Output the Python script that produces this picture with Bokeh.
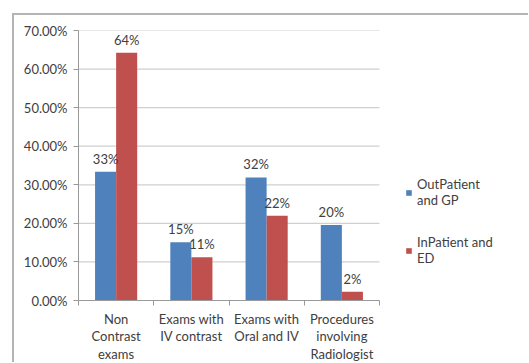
from bokeh.plotting import figure
from bokeh.models import (ColumnDataSource, FixedTicker, NumeralTickFormatter, Range1d,
                          Legend, LegendItem)
from bokeh.transform import dodge
from bokeh.core.properties import value
from bokeh.embed import file_html
from bokeh.resources import INLINE

categories = ["Non\nContrast\nexams", "Exams with\nIV contrast", "Exams with\nOral and IV",
              "Procedures\ninvolving\nRadiologist"]
outpatient = [0.334, 0.151, 0.319, 0.196]
inpatient = [0.642, 0.112, 0.220, 0.023]
out_labels = ["33%", "15%", "32%", "20%"]
in_labels = ["64%", "11%", "22%", "2%"]
series_names = ["OutPatient\nand GP", "InPatient and\nED"]
y_ticks = [0.0, 0.1, 0.2, 0.3, 0.4, 0.5, 0.6, 0.7]
colors = ["#4F81BD", "#C0504D"]

FONT = "Lato"
FS = "13px"
TXT = "#404040"
GRID = "#d0d0d0"

n = len(categories)
pos = [i + 0.5 for i in range(n)]
src = ColumnDataSource(dict(x=pos, out=outpatient, inp=inpatient,
                            out_lab=out_labels, in_lab=in_labels))

# frame spans 447 px; the 4 categories occupy 301 px of it, the rest holds the legend
x_end = n * 447 / 301
p = figure(width=516, height=349, output_backend="svg", toolbar_location=None,
           x_range=Range1d(0, x_end), y_range=Range1d(0, y_ticks[-1]),
           min_border_left=64, min_border_right=5, min_border_top=15, min_border_bottom=63)
p.margin = (13, 0, 0, 12)
p.styles = {"border-top": "2px solid #b4b4b4", "border-left": "2px solid #b4b4b4"}
p.outline_line_color = None
p.background_fill_color = "white"

# horizontal grid lines limited to the category area
p.segment(x0=0, x1=n, y0=y_ticks[1:], y1=y_ticks[1:], line_color=GRID, line_width=1.2)

r1 = p.vbar(x=dodge("x", -0.14, range=p.x_range), top="out", width=0.28, source=src,
            fill_color=colors[0], line_color=None)
r2 = p.vbar(x=dodge("x", 0.14, range=p.x_range), top="inp", width=0.28, source=src,
            fill_color=colors[1], line_color=None)

for dx, col, lab in [(-0.14, "out", "out_lab"), (0.14, "inp", "in_lab")]:
    p.text(x=dodge("x", dx, range=p.x_range), y=col, text=lab, source=src,
           text_align="center", text_baseline="bottom", y_offset=-5,
           text_font=value(FONT), text_font_size=FS, text_color=TXT)

# axes
p.xaxis.bounds = (0, n)
p.xaxis.ticker = FixedTicker(ticks=pos, minor_ticks=list(range(n + 1)))
p.xaxis.major_label_overrides = {v: c for v, c in zip(pos, categories)}
p.xaxis.major_tick_line_color = None
p.xaxis.minor_tick_in = 0
p.xaxis.minor_tick_out = 5
p.xaxis.minor_tick_line_color = "#999999"
p.xaxis.axis_line_color = "#999999"
p.xaxis.major_label_text_font = FONT
p.xaxis.major_label_text_font_size = FS
p.xaxis.major_label_text_color = TXT
p.xaxis.major_label_text_line_height = 1.1
p.xaxis.major_label_standoff = 4

p.yaxis.ticker = FixedTicker(ticks=y_ticks)
p.yaxis.formatter = NumeralTickFormatter(format="0.00%")
p.yaxis.major_tick_in = 0
p.yaxis.major_tick_out = 5
p.yaxis.major_tick_line_color = "#999999"
p.yaxis.minor_tick_line_color = None
p.yaxis.axis_line_color = "#999999"
p.yaxis.major_label_text_font = FONT
p.yaxis.major_label_text_font_size = FS
p.yaxis.major_label_text_color = TXT
p.yaxis.major_label_standoff = 6

p.xgrid.grid_line_color = None
p.ygrid.grid_line_color = None

legend = Legend(items=[LegendItem(label=series_names[0], renderers=[r1]),
                       LegendItem(label=series_names[1], renderers=[r2])],
                location=(327, 34), orientation="vertical", margin=0,
                glyph_width=7, glyph_height=7, spacing=26, padding=0,
                label_text_font=FONT, label_text_font_size=FS, label_text_color=TXT,
                label_text_line_height=1.4,
                label_standoff=5, background_fill_alpha=0, border_line_color=None)
p.add_layout(legend)

open("out.html", "w").write(file_html(p, INLINE))
